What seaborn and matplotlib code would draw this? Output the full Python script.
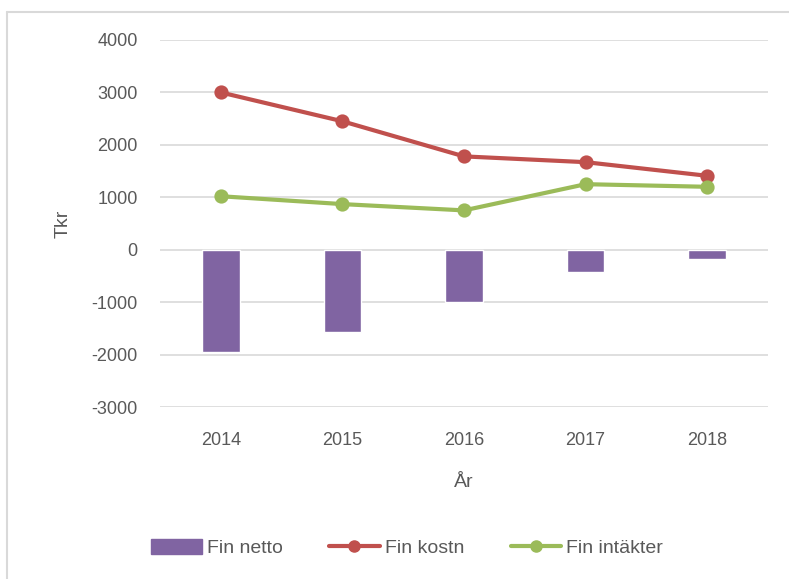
import numpy as np
import pandas as pd
import matplotlib
matplotlib.use('Agg')
import matplotlib.pyplot as plt
from matplotlib.lines import Line2D
from matplotlib.patches import Patch
import seaborn as sns

years = ['2014', '2015', '2016', '2017', '2018']
fin_netto = [-1950, -1570, -1000, -430, -170]
fin_kostn = [3000, 2450, 1780, 1670, 1410]
fin_intakter = [1020, 870, 750, 1250, 1200]

purple = '#8064A2'
red = '#C0504D'
green = '#9BBB59'
txt = '#595959'

sns.set_style('white')
plt.rcParams['font.family'] = ['Liberation Sans', 'DejaVu Sans']
plt.rcParams['axes.unicode_minus'] = False

df = pd.DataFrame({'year': years, 'netto': fin_netto,
                   'kostn': fin_kostn, 'intakter': fin_intakter})

fig = plt.figure(figsize=(7.89, 5.79), dpi=100)
ax = fig.add_axes([160/789, 1 - 407/579, 608/789, 367/579])

sns.barplot(data=df, x='year', y='netto', color=purple, width=0.31,
            saturation=1, ax=ax, zorder=2)
sns.pointplot(data=df, x='year', y='kostn', color=red, markers='o',
              linewidth=3, markersize=8, ax=ax, zorder=3)
sns.pointplot(data=df, x='year', y='intakter', color=green, markers='o',
              linewidth=3, markersize=8, ax=ax, zorder=3)

ax.set_ylim(-3000, 4000)
ax.set_xlim(-0.5, 4.5)
ax.set_yticks(range(-3000, 4001, 1000))
ax.yaxis.grid(True, color='#D9D9D9', linewidth=1.2)
ax.set_axisbelow(True)
for s in ax.spines.values():
    s.set_visible(False)
ax.tick_params(axis='both', length=0, labelsize=13, labelcolor=txt)
ax.tick_params(axis='y', pad=16)
ax.tick_params(axis='x', pad=18)

ax.set_xlabel('År', fontsize=14, color=txt)
ax.set_ylabel('Tkr', fontsize=14, color=txt)
ax.yaxis.set_label_coords(-88/608, 0.5)
ax.xaxis.set_label_coords(0.5, -(474 - 407) / 367)

handles = [
    Patch(facecolor=purple, edgecolor=purple),
    Line2D([], [], color=red, linewidth=3, marker='o', markersize=8),
    Line2D([], [], color=green, linewidth=3, marker='o', markersize=8),
]
labels = ['Fin netto', 'Fin kostn', 'Fin intäkter']
leg = fig.legend(handles, labels, loc='center', bbox_to_anchor=(407/789, 1 - 548/579),
                 ncol=3, frameon=False, fontsize=14, handlelength=2.6,
                 handleheight=0.8, columnspacing=2.4, handletextpad=0.25)
for t in leg.get_texts():
    t.set_color(txt)

# chart frame (left and top edges visible)
fig.add_artist(Line2D([7/789, 7/789], [0, 1 - 12/579], color='#D9D9D9', linewidth=1.5,
                      transform=fig.transFigure))
fig.add_artist(Line2D([7/789, 1], [1 - 12/579, 1 - 12/579], color='#D9D9D9', linewidth=1.5,
                      transform=fig.transFigure))

fig.savefig('out.png', dpi=100)
